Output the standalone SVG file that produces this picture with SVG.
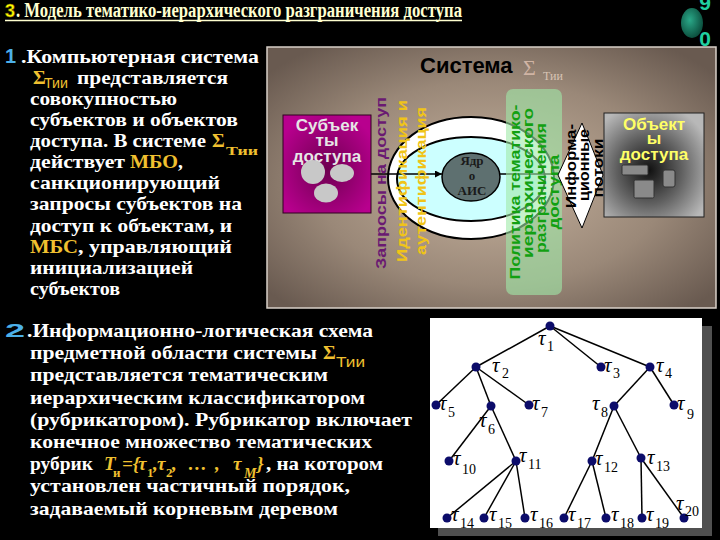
<svg xmlns="http://www.w3.org/2000/svg" width="720" height="540" viewBox="0 0 720 540">
<defs>
<radialGradient id="gPanel" cx="50%" cy="52%" r="65%">
<stop offset="0" stop-color="#c6b29e"/><stop offset="0.6" stop-color="#9a8878"/><stop offset="1" stop-color="#695a50"/>
</radialGradient>
<radialGradient id="gSubj" cx="50%" cy="55%" r="60%">
<stop offset="0" stop-color="#6e0050"/><stop offset="1" stop-color="#b8008e"/>
</radialGradient>
<radialGradient id="gObj" cx="45%" cy="55%" r="65%">
<stop offset="0" stop-color="#101010"/><stop offset="0.5" stop-color="#606060"/><stop offset="1" stop-color="#b8b8b8"/>
</radialGradient>
<radialGradient id="gSphere" cx="40%" cy="40%" r="65%">
<stop offset="0" stop-color="#2aa888"/><stop offset="1" stop-color="#0a4a3a"/>
</radialGradient>
<marker id="arr" viewBox="0 0 10 10" refX="10" refY="5" markerWidth="8" markerHeight="7" markerUnits="userSpaceOnUse" orient="auto">
<path d="M0,0 L10,5 L0,10 z" fill="#000"/>
</marker>
<style>
.b{font-family:"Liberation Serif",serif;font-weight:bold;font-size:19.5px;fill:#ffffff}
.y{fill:#f0c030}
.ss{font-family:"Liberation Sans",sans-serif;font-size:14px;fill:#f0c030}
.rot{font-family:"Liberation Sans",sans-serif;font-weight:bold;font-size:15.5px;text-anchor:middle}
.box{font-family:"Liberation Sans",sans-serif;font-weight:bold;font-size:17px;text-anchor:middle}
.tau{font-family:"Liberation Serif",serif;font-style:italic;font-size:21px;fill:#000}
.sub{font-family:"Liberation Serif",serif;font-size:14px;fill:#000}
.node{fill:#0c0c6a}
.edge{stroke:#000;stroke-width:1.5}
.yi{font-family:"Liberation Serif",serif;font-style:italic;font-weight:bold;font-size:19px;fill:#f0c030}
.ysub{font-family:"Liberation Serif",serif;font-weight:bold;font-size:13px;fill:#f0c030}
</style>
</defs>
<rect x="0" y="0" width="720" height="540" fill="#000"/>

<g id="title">
<text x="5" y="17" font-family="Liberation Sans, sans-serif" font-weight="bold" font-size="18" fill="#ffff00" stroke="#806000" stroke-width="0.5">3</text>
<text x="16" y="17" font-family="Liberation Serif, serif" font-weight="bold" font-size="20" fill="#ffffd0" textLength="446" lengthAdjust="spacingAndGlyphs">. Модель тематико-иерархического разграничения доступа</text>
<line x1="5" y1="20.5" x2="462" y2="20.5" stroke="#ffffd0" stroke-width="1.5"/>
</g>

<g id="slide-number">
<ellipse cx="692" cy="23" rx="11" ry="15" fill="url(#gSphere)"/>
<text x="705" y="10" font-family="Liberation Sans, sans-serif" font-weight="bold" font-size="21" fill="#20d0a0" text-anchor="middle">9</text>
</g>

<g id="system-panel">
<rect x="267" y="47" width="449" height="261" fill="url(#gPanel)" stroke="#d8d0c8" stroke-width="1.5"/>
<text x="420" y="73" font-family="Liberation Sans, sans-serif" font-weight="bold" font-size="22" fill="#000">Система</text>
<text x="523" y="75" font-family="Liberation Serif, serif" font-size="22" fill="#d0b4a4">Σ</text>
<text x="543" y="80" font-family="Liberation Serif, serif" font-size="12" fill="#d8c4b4">Тии</text>
</g>
<g id="slide-number-0">
<text x="705" y="46" font-family="Liberation Sans, sans-serif" font-weight="bold" font-size="21" fill="#20d0a0" text-anchor="middle">0</text>
</g>

<g id="security-rings">
<ellipse cx="471" cy="178" rx="83" ry="61" fill="#ffffff" stroke="#000" stroke-width="2"/>
<ellipse cx="471" cy="179" rx="74" ry="42" fill="#ccffff" stroke="#000" stroke-width="2"/>
</g>

<g id="core">
<ellipse cx="471" cy="177" rx="29" ry="24" fill="#5e7070" stroke="#000" stroke-width="1.5"/>
<g font-family="Liberation Serif, serif" font-weight="bold" font-size="13" fill="#1a1a1a" text-anchor="middle">
<text x="472" y="165">Ядр</text><text x="472" y="180">о</text><text x="472" y="195">АИС</text>
</g>
</g>

<g id="tree-panel">
<rect x="438" y="326" width="274" height="210" fill="#505050"/>
<rect x="430" y="318" width="272" height="210" fill="#ffffff"/>
</g>

<g id="connectors">
<line x1="366" y1="174" x2="442" y2="174" stroke="#000" stroke-width="1.3" marker-end="url(#arr)"/>
<line x1="500" y1="174" x2="560" y2="174" stroke="#000" stroke-width="1.3"/>
<line class="edge" x1="550" y1="326" x2="476" y2="367"/>
<line class="edge" x1="550" y1="326" x2="601" y2="367"/>
<line class="edge" x1="550" y1="326" x2="650" y2="367"/>
<line class="edge" x1="476" y1="367" x2="436" y2="405"/>
<line class="edge" x1="476" y1="367" x2="491" y2="406"/>
<line class="edge" x1="476" y1="367" x2="529" y2="405"/>
<line class="edge" x1="650" y1="367" x2="614" y2="406"/>
<line class="edge" x1="650" y1="367" x2="674" y2="405"/>
<line class="edge" x1="491" y1="406" x2="449" y2="461"/>
<line class="edge" x1="491" y1="406" x2="516" y2="461"/>
<line class="edge" x1="614" y1="406" x2="592" y2="461"/>
<line class="edge" x1="614" y1="406" x2="641" y2="458"/>
<line class="edge" x1="516" y1="461" x2="447" y2="518"/>
<line class="edge" x1="516" y1="461" x2="484" y2="518"/>
<line class="edge" x1="516" y1="461" x2="525" y2="518"/>
<line class="edge" x1="592" y1="461" x2="564" y2="518"/>
<line class="edge" x1="592" y1="461" x2="606" y2="518"/>
<line class="edge" x1="641" y1="458" x2="642" y2="518"/>
<line class="edge" x1="641" y1="458" x2="684" y2="518"/>
</g>

<g id="subjects">
<rect x="283" y="115" width="88" height="98" fill="url(#gSubj)" stroke="#300020" stroke-width="1"/>
<g class="box" fill="#e6e6e6">
<text x="327" y="131">Субъек</text><text x="327" y="146">ты</text><text x="327" y="162">доступа</text>
</g>
<ellipse cx="313" cy="172" rx="12" ry="12" fill="#c8c8c8"/>
<ellipse cx="342" cy="173" rx="12" ry="9" fill="#c8c8c8"/>
<ellipse cx="326" cy="193" rx="12" ry="9.5" fill="#c8c8c8"/>
</g>

<g id="policy">
<rect x="506" y="89" width="56" height="206" rx="7" fill="#a0eaa8" fill-opacity="0.6"/>
<g class="rot" fill="#12a012">
<text transform="translate(520,192) rotate(-90)" textLength="175" lengthAdjust="spacingAndGlyphs">Политика тематико-</text>
<text transform="translate(533,183) rotate(-90)" textLength="150" lengthAdjust="spacingAndGlyphs">иерархического</text>
<text transform="translate(546,188) rotate(-90)" textLength="130" lengthAdjust="spacingAndGlyphs">разграничения</text>
<text transform="translate(559,192) rotate(-90)" textLength="75" lengthAdjust="spacingAndGlyphs">доступа</text>
</g>
</g>

<g id="requests">
<text class="rot" fill="#6a1a72" transform="translate(386,183) rotate(-90)" textLength="172" lengthAdjust="spacingAndGlyphs">Запросы на доступ</text>
</g>
<g id="identification">
<text class="rot" fill="#f0c418" transform="translate(407,181) rotate(-90)" textLength="162" lengthAdjust="spacingAndGlyphs">Идентификация и</text>
<text class="rot" fill="#f0c418" transform="translate(426,181) rotate(-90)" textLength="148" lengthAdjust="spacingAndGlyphs">аутентификация</text>
</g>

<g id="objects">
<rect x="604" y="113" width="100" height="104" fill="url(#gObj)" stroke="#202020" stroke-width="1"/>
<g class="box" fill="#ffff66">
<text x="654" y="130">Объект</text><text x="654" y="144">ы</text><text x="654" y="160">доступа</text>
</g>
<rect x="622" y="165" width="26" height="10" rx="1.5" fill="#8a8a8a" stroke="#333" stroke-width="1"/>
<rect x="634" y="180" width="20" height="18" rx="1.5" fill="#8a8a8a" stroke="#333" stroke-width="1"/>
<rect x="663" y="170" width="12" height="17" rx="2" fill="#8a8a8a" stroke="#333" stroke-width="1"/>
</g>

<g id="info-flows">
<polygon points="582,123 603,175 582,228 558,175" fill="#ffffff" stroke="#000" stroke-width="1"/>
<g class="rot" fill="#000">
<text transform="translate(576,166) rotate(-90)" textLength="84" lengthAdjust="spacingAndGlyphs">Информа-</text>
<text transform="translate(589,165) rotate(-90)" textLength="72" lengthAdjust="spacingAndGlyphs">ционные</text>
<text transform="translate(603,168) rotate(-90)" textLength="59" lengthAdjust="spacingAndGlyphs">потоки</text>
</g>
</g>

<g id="text-block-1">
<text x="5" y="63" font-family="Liberation Sans, sans-serif" font-weight="bold" font-size="20" fill="#4cb0e8">1</text>
<text class="b" x="21" y="62.5" textLength="238" lengthAdjust="spacingAndGlyphs">.Компьютерная система</text>
<text class="b y" x="33" y="83.5">Σ</text>
<text class="ss" x="44" y="88" textLength="24" lengthAdjust="spacingAndGlyphs">Тии</text>
<text class="b" x="77" y="83.5" textLength="151" lengthAdjust="spacingAndGlyphs">представляется</text>
<text class="b" x="30" y="104.5" textLength="147" lengthAdjust="spacingAndGlyphs">совокупностью</text>
<text class="b" x="30" y="125.5" textLength="208" lengthAdjust="spacingAndGlyphs">субъектов и объектов</text>
<text class="b" x="30" y="147" textLength="176" lengthAdjust="spacingAndGlyphs">доступа. В системе</text>
<text class="b y" x="212" y="147">Σ</text>
<text x="226" y="155" font-family="Liberation Serif, serif" font-weight="bold" font-size="13" fill="#f0c030" textLength="32" lengthAdjust="spacingAndGlyphs">Тии</text>
<text class="b" x="30" y="168" textLength="95" lengthAdjust="spacingAndGlyphs">действует</text>
<text class="b y" x="130" y="168" textLength="48" lengthAdjust="spacingAndGlyphs">МБО</text>
<text class="b" x="178" y="168">,</text>
<text class="b" x="30" y="189" textLength="190" lengthAdjust="spacingAndGlyphs">санкционирующий</text>
<text class="b" x="30" y="210" textLength="212" lengthAdjust="spacingAndGlyphs">запросы субъектов на</text>
<text class="b" x="30" y="231.5" textLength="202" lengthAdjust="spacingAndGlyphs">доступ к объектам, и</text>
<text class="b y" x="30" y="252.5" textLength="48" lengthAdjust="spacingAndGlyphs">МБС</text>
<text class="b" x="78" y="252.5" textLength="154" lengthAdjust="spacingAndGlyphs">, управляющий</text>
<text class="b" x="30" y="273.5" textLength="163" lengthAdjust="spacingAndGlyphs">инициализацией</text>
<text class="b" x="30" y="294.5" textLength="90" lengthAdjust="spacingAndGlyphs">субъектов</text>
</g>

<g id="text-block-2">
<text x="5" y="337" font-family="Liberation Sans, sans-serif" font-weight="bold" font-size="19" fill="#4cb0e8" textLength="20" lengthAdjust="spacingAndGlyphs">2</text>
<text class="b" x="27" y="337" textLength="346" lengthAdjust="spacingAndGlyphs">.Информационно-логическая схема</text>
<text class="b" x="30" y="359" textLength="287" lengthAdjust="spacingAndGlyphs">предметной области системы</text>
<text class="b y" x="323" y="359">Σ</text>
<text class="ss" x="336" y="367" textLength="29" lengthAdjust="spacingAndGlyphs">Тии</text>
<text class="b" x="30" y="381" textLength="298" lengthAdjust="spacingAndGlyphs">представляется тематическим</text>
<text class="b" x="30" y="403.5" textLength="335" lengthAdjust="spacingAndGlyphs">иерархическим классификатором</text>
<text class="b" x="30" y="426" textLength="382" lengthAdjust="spacingAndGlyphs">(рубрикатором). Рубрикатор включает</text>
<text class="b" x="30" y="448" textLength="342" lengthAdjust="spacingAndGlyphs">конечное множество тематических</text>
<text class="b" x="30" y="470" textLength="63" lengthAdjust="spacingAndGlyphs">рубрик</text>
<text class="yi" x="104" y="470">T</text>
<text class="ysub" x="113" y="477">и</text>
<text class="yi" x="122" y="470">={</text>
<text class="yi" x="138" y="470">τ</text>
<text class="ysub" x="147" y="477">1</text>
<text class="yi" x="153" y="470">,</text>
<text class="yi" x="157" y="470">τ</text>
<text class="ysub" x="166" y="477">2</text>
<text class="yi" x="172" y="470">,</text>
<text class="yi" x="188" y="470">…</text>
<text class="yi" x="215" y="470">,</text>
<text class="yi" x="233" y="470">τ</text>
<text x="244" y="478" font-family="Liberation Serif, serif" font-style="italic" font-weight="bold" font-size="14" fill="#f0c030">M</text>
<text class="yi" x="257" y="470">}</text>
<text class="b" x="266" y="470" textLength="117" lengthAdjust="spacingAndGlyphs">, на котором</text>
<text class="b" x="30" y="492" textLength="320" lengthAdjust="spacingAndGlyphs">установлен частичный порядок,</text>
<text class="b" x="30" y="514.5" textLength="308" lengthAdjust="spacingAndGlyphs">задаваемый корневым деревом</text>
</g>

<g id="t1"><circle class="node" cx="550" cy="326" r="4.5"/><text class="tau" x="538" y="345">τ</text><text class="sub" x="547" y="351">1</text></g>
<g id="t2"><circle class="node" cx="476" cy="367" r="4.5"/><text class="tau" x="492" y="372">τ</text><text class="sub" x="502" y="378">2</text></g>
<g id="t3"><circle class="node" cx="601" cy="367" r="4.5"/><text class="tau" x="604" y="372">τ</text><text class="sub" x="613" y="378">3</text></g>
<g id="t4"><circle class="node" cx="650" cy="367" r="4.5"/><text class="tau" x="656" y="372">τ</text><text class="sub" x="665" y="378">4</text></g>
<g id="t5"><circle class="node" cx="436" cy="405" r="4.5"/><text class="tau" x="439" y="410">τ</text><text class="sub" x="448" y="417">5</text></g>
<g id="t6"><circle class="node" cx="491" cy="406" r="4.5"/><text class="tau" x="479" y="427">τ</text><text class="sub" x="488" y="434">6</text></g>
<g id="t7"><circle class="node" cx="529" cy="405" r="4.5"/><text class="tau" x="532" y="410">τ</text><text class="sub" x="541" y="417">7</text></g>
<g id="t8"><circle class="node" cx="614" cy="406" r="4.5"/><text class="tau" x="592" y="410">τ</text><text class="sub" x="601" y="417">8</text></g>
<g id="t9"><circle class="node" cx="674" cy="405" r="4.5"/><text class="tau" x="677" y="410">τ</text><text class="sub" x="687" y="419">9</text></g>
<g id="t10"><circle class="node" cx="449" cy="461" r="4.5"/><text class="tau" x="453" y="465">τ</text><text class="sub" x="462" y="474">10</text></g>
<g id="t11"><circle class="node" cx="516" cy="461" r="4.5"/><text class="tau" x="519" y="462">τ</text><text class="sub" x="528" y="469">11</text></g>
<g id="t12"><circle class="node" cx="592" cy="461" r="4.5"/><text class="tau" x="595" y="465">τ</text><text class="sub" x="604" y="472">12</text></g>
<g id="t13"><circle class="node" cx="641" cy="458" r="4.5"/><text class="tau" x="647" y="464">τ</text><text class="sub" x="656" y="471">13</text></g>
<g id="t14"><circle class="node" cx="447" cy="518" r="4.5"/><text class="tau" x="451" y="521">τ</text><text class="sub" x="460" y="528">14</text></g>
<g id="t15"><circle class="node" cx="484" cy="518" r="4.5"/><text class="tau" x="489" y="521">τ</text><text class="sub" x="498" y="528">15</text></g>
<g id="t16"><circle class="node" cx="525" cy="518" r="4.5"/><text class="tau" x="530" y="521">τ</text><text class="sub" x="539" y="528">16</text></g>
<g id="t17"><circle class="node" cx="564" cy="518" r="4.5"/><text class="tau" x="568" y="521">τ</text><text class="sub" x="577" y="528">17</text></g>
<g id="t18"><circle class="node" cx="606" cy="518" r="4.5"/><text class="tau" x="611" y="521">τ</text><text class="sub" x="620" y="528">18</text></g>
<g id="t19"><circle class="node" cx="642" cy="518" r="4.5"/><text class="tau" x="646" y="521">τ</text><text class="sub" x="655" y="528">19</text></g>
<g id="t20"><circle class="node" cx="684" cy="518" r="4.5"/><text class="tau" x="676" y="510">τ</text><text class="sub" x="685" y="516">20</text></g>
</svg>
